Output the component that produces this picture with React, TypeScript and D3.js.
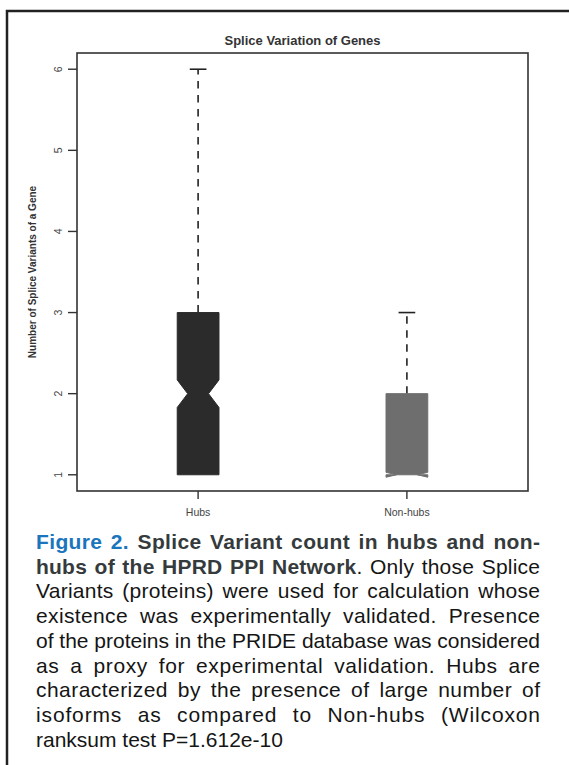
import React, { useMemo } from 'react';
import * as d3 from 'd3';

// box statistics
const categories = ['Hubs', 'Non-hubs'];
const lowerWhisker = [1, 1];
const q1 = [1, 1];
const medians = [2, 1];
const q3 = [3, 2];
const upperWhisker = [6, 3];
const notchLo = [1.83, 0.97];
const notchHi = [2.17, 1.03];
const yTicks = [1, 2, 3, 4, 5, 6];

const title = 'Splice Variation of Genes';
const yLabel = 'Number of Splice Variants of a Gene';

// caption, one entry per printed line: [text, style]
const captionLines: [string, string][][] = [
  [['Figure 2.', 'fig'], [' Splice Variant count in hubs and non-', 'bold']],
  [['hubs of the HPRD PPI Network', 'bold'], ['. Only those Splice', 'normal']],
  [['Variants (proteins) were used for calculation whose', 'normal']],
  [['existence was experimentally validated. Presence', 'normal']],
  [['of the proteins in the PRIDE database was considered', 'normal']],
  [['as a proxy for experimental validation. Hubs are', 'normal']],
  [['characterized by the presence of large number of', 'normal']],
  [['isoforms as compared to Non-hubs (Wilcoxon', 'normal']],
  [['ranksum test P=1.612e-10', 'normal']],
];

const W = 569;
const H = 765;
const FONT = '"Liberation Sans", Arial, Helvetica, sans-serif';
const boxFills = ['#2b2b2b', '#6e6e6e'];
const CAP_SIZE = 21;
const capStyles: Record<string, { color: string; weight: number }> = {
  fig: { color: '#1b75bc', weight: 700 },
  bold: { color: '#353a3c', weight: 700 },
  normal: { color: '#151515', weight: 400 },
};

const margin = { left: 77, right: W - 528, top: 53, bottom: H - 491 };

type Piece = { text: string; style: string; w: number };

function layoutCaption() {
  const canvas = document.createElement('canvas');
  const ctx = canvas.getContext('2d')!;
  const measure = (t: string, style: string) => {
    ctx.font = `${capStyles[style].weight} ${CAP_SIZE}px ${FONT}`;
    return ctx.measureText(t).width;
  };
  const x0 = 36;
  const x1 = 540;
  const spaceW = measure(' ', 'normal');
  return captionLines.map((runs, li) => {
    // split runs into words, each word may hold several styled pieces
    const words: Piece[][] = [[]];
    runs.forEach(([text, style]) => {
      text.split(/( )/).forEach((part) => {
        if (part === ' ') {
          if (words[words.length - 1].length) words.push([]);
        } else if (part) {
          words[words.length - 1].push({ text: part, style, w: measure(part, style) });
        }
      });
    });
    const clean = words.filter((w) => w.length);
    const chars = clean.map((w) => d3.sum(w, (p) => p.text.length));
    const natural = clean.map((w) => d3.sum(w, (p) => p.w));
    const last = li === captionLines.length - 1;
    let ls = 0;
    let gap = spaceW;
    if (!last) {
      // the original spreads some of the slack between letters, the rest between words
      const extra = x1 - x0 - d3.sum(natural) - (clean.length - 1) * spaceW;
      ls = Math.max(0, extra * 0.4) / d3.sum(chars);
      const widths = natural.map((n, i) => n + ls * chars[i]);
      gap = (x1 - x0 - d3.sum(widths) + ls) / (clean.length - 1);
    }
    let x = x0;
    return clean.map((w, i) => {
      const item = { x, pieces: w, ls };
      x += natural[i] + ls * chars[i] + gap;
      return item;
    });
  });
}

export default function App() {
  const x = d3.scaleLinear().domain([0.42, 2.58]).range([margin.left, W - margin.right]);
  const y = d3.scaleLinear().domain([0.8, 6.2]).range([H - margin.bottom, margin.top]);
  const caption = useMemo(layoutCaption, []);

  const boxPath = (i: number) => {
    const c = i + 1;
    const L = x(c - 0.1);
    const R = x(c + 0.1);
    const iL = x(c - 0.05);
    const iR = x(c + 0.05);
    const pts: [number, number][] = [
      [L, y(q1[i])], [L, y(notchLo[i])], [iL, y(medians[i])], [L, y(notchHi[i])], [L, y(q3[i])],
      [R, y(q3[i])], [R, y(notchHi[i])], [iR, y(medians[i])], [R, y(notchLo[i])], [R, y(q1[i])],
    ];
    return d3.line()(pts) + 'Z';
  };

  const plotMidY = (y.range()[0] + y.range()[1]) / 2;
  const plotMidX = (x.range()[0] + x.range()[1]) / 2;

  return (
    <svg
      width={W}
      height={H}
      style={{ position: 'absolute', left: 0, top: 0, background: '#fff', fontFamily: FONT }}
    >
      {/* outer figure frame */}
      <path d={`M7,${H} V11 H${W}`} fill="none" stroke="#222" strokeWidth={2.5} />

      <text x={plotMidX} y={45} textAnchor="middle" fontSize={13} fontWeight={700} fill="#333">
        {title}
      </text>

      {/* plot box */}
      <rect
        x={x.range()[0]}
        y={y.range()[1]}
        width={x.range()[1] - x.range()[0]}
        height={y.range()[0] - y.range()[1]}
        fill="none"
        stroke="#333"
        strokeWidth={1.6}
      />

      {/* y axis */}
      {yTicks.map((t) => (
        <g key={t}>
          <line x1={x.range()[0] - 9} x2={x.range()[0]} y1={y(t)} y2={y(t)} stroke="#333" strokeWidth={1.4} />
          <text
            transform={`translate(62,${y(t)}) rotate(-90)`}
            textAnchor="middle"
            fontSize={10.5}
            fill="#444"
          >
            {t}
          </text>
        </g>
      ))}
      <text
        transform={`translate(36,${plotMidY}) rotate(-90)`}
        textAnchor="middle"
        fontSize={10}
        fontWeight={700}
        fill="#333"
      >
        {yLabel}
      </text>

      {/* x axis */}
      {categories.map((c, i) => (
        <g key={c}>
          <line x1={x(i + 1)} x2={x(i + 1)} y1={y.range()[0]} y2={y.range()[0] + 8} stroke="#333" strokeWidth={1.4} />
          <text x={x(i + 1)} y={515.5} textAnchor="middle" fontSize={10.5} fill="#444">
            {c}
          </text>
        </g>
      ))}

      {/* boxes */}
      {categories.map((c, i) => {
        const cx = x(i + 1);
        const cap = x(i + 1.04) - cx;
        return (
          <g key={c}>
            <line x1={cx} x2={cx} y1={y(q3[i])} y2={y(upperWhisker[i])} stroke="#222" strokeWidth={1.6} strokeDasharray="7.5,6.5" />
            <line x1={cx - cap} x2={cx + cap} y1={y(upperWhisker[i])} y2={y(upperWhisker[i])} stroke="#222" strokeWidth={1.6} />
            <path d={boxPath(i)} fill={boxFills[i]} stroke={boxFills[i]} strokeWidth={1} strokeLinejoin="round" />
          </g>
        );
      })}

      {/* caption */}
      {caption.map((line, li) => (
        <g key={li}>
          {line.map((w, wi) => (
            <text key={wi} x={w.x} y={549 + li * 24.7} fontSize={CAP_SIZE} letterSpacing={w.ls}>
              {w.pieces.map((p, pi) => (
                <tspan key={pi} fill={capStyles[p.style].color} fontWeight={capStyles[p.style].weight}>
                  {p.text}
                </tspan>
              ))}
            </text>
          ))}
        </g>
      ))}
    </svg>
  );
}
